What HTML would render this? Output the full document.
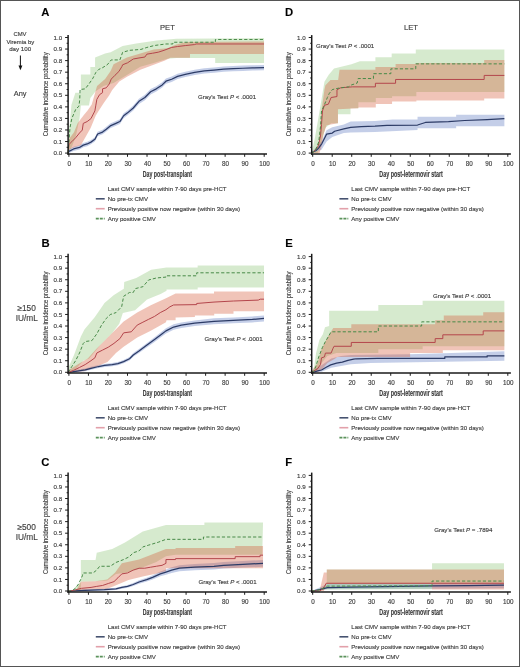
<!DOCTYPE html>
<html><head><meta charset="utf-8"><style>
html,body{margin:0;padding:0;background:#fff;width:520px;height:667px;overflow:hidden}
svg{display:block;will-change:transform}
text{font-family:"Liberation Sans", sans-serif;stroke:currentColor;stroke-width:0.14px;color:#3c3c3c}
</style></head><body>
<svg width="520" height="667" viewBox="0 0 520 667">
<rect x="0" y="0" width="520" height="667" fill="#fff"/>
<polygon points="68.10,151.02 68.89,149.27 73.61,146.82 79.52,145.30 83.26,142.96 87.20,141.80 90.94,139.93 94.88,137.13 97.63,131.75 102.56,129.77 106.30,126.85 110.24,123.58 115.95,121.01 119.88,119.14 123.63,113.31 127.56,110.39 133.27,105.48 138.98,98.71 144.89,94.86 150.60,89.06 156.31,86.17 162.22,82.24 165.96,78.54 171.67,76.57 177.58,73.68 185.26,71.72 194.71,69.75 204.35,68.25 214.00,67.44 223.65,66.52 233.30,65.94 242.95,65.59 252.40,65.24 264.02,65.01 264.02,70.33 252.40,70.56 242.95,70.91 233.30,71.26 223.65,71.83 214.00,72.76 204.35,73.57 194.71,75.07 185.26,77.04 177.58,79.00 171.67,81.89 165.96,83.86 162.22,87.55 156.31,91.49 150.60,94.38 144.89,100.13 138.98,103.91 133.27,110.55 127.56,115.35 123.63,118.22 119.88,123.94 115.95,125.77 110.24,128.29 106.30,131.49 102.56,134.35 97.63,136.30 94.88,141.56 90.94,144.31 87.20,146.14 83.26,147.28 79.52,149.57 73.61,151.06 68.89,153.10 68.10,153.10" fill="rgb(58,92,178)" fill-opacity="0.3"/>
<polygon points="68.69,135.76 71.45,104.78 75.39,92.64 80.90,92.64 80.90,74.49 90.35,74.49 90.35,66.98 95.08,66.98 95.08,57.61 105.12,53.45 110.63,52.18 122.64,46.05 136.23,43.40 156.70,40.39 176.39,38.66 264.02,38.08 264.02,62.93 215.18,62.93 215.18,58.08 176.39,58.08 167.34,58.77 153.75,62.93 140.36,66.86 126.97,74.95 113.58,83.05 103.54,86.05 95.67,91.37 90.35,98.07 88.97,105.47 80.90,105.47 79.52,118.42 75.98,135.76 72.04,146.16 68.69,153.10" fill="rgb(118,185,92)" fill-opacity="0.3"/>
<polygon points="68.89,139.23 74.01,132.29 77.75,123.04 83.85,114.95 87.79,110.33 91.73,104.55 97.04,85.94 105.12,79.12 110.63,71.02 113.58,64.20 126.97,57.50 140.36,53.45 153.75,49.41 167.34,48.14 176.39,44.44 186.24,42.12 264.02,41.43 264.02,54.03 189.98,54.03 189.98,57.73 170.49,57.73 164.97,60.62 152.37,65.24 140.36,69.87 126.97,76.80 119.29,81.54 112.21,89.98 109.25,95.30 103.74,103.05 99.21,109.98 95.67,115.76 90.74,127.67 85.82,136.45 80.90,145.35 74.01,147.32 68.89,149.63" fill="rgb(212,86,52)" fill-opacity="0.35"/>
<polyline points="68.10,153.10 68.89,151.37 73.61,148.94 79.52,147.44 83.26,145.12 87.20,143.97 90.94,142.12 94.88,139.34 97.63,134.03 102.56,132.06 106.30,129.17 110.24,125.93 115.95,123.39 119.88,121.54 123.63,115.76 127.56,112.87 133.27,108.02 138.98,101.31 144.89,97.50 150.60,91.72 156.31,88.83 162.22,84.90 165.96,81.20 171.67,79.23 177.58,76.34 185.26,74.38 194.71,72.41 204.35,70.91 214.00,70.10 223.65,69.17 233.30,68.60 242.95,68.25 252.40,67.90 264.02,67.67" fill="none" stroke="#2c3b66" stroke-width="1.25" stroke-linejoin="round"/>
<polyline points="68.10,153.10 68.89,144.55 71.84,141.66 75.58,137.84 79.52,132.99 82.28,130.10 83.26,123.39 87.20,121.54 90.94,118.65 94.88,110.91 95.86,105.13 96.85,99.35 99.60,94.61 102.56,92.64 102.56,88.83 106.30,87.79 109.25,83.97 111.22,79.12 114.96,75.30 118.90,71.49 121.85,66.63 122.64,64.78 127.56,62.82 133.27,59.00 138.98,57.96 144.89,57.04 146.86,54.15 152.57,53.22 158.28,52.18 163.99,50.33 171.67,47.44 177.58,46.52 185.26,45.59 194.71,44.55 196.08,43.97 264.02,43.97" fill="none" stroke="#b4464c" stroke-width="1.0" stroke-linejoin="round"/>
<polyline points="68.10,153.10 68.69,145.01 69.99,127.67 71.84,118.42 73.81,113.80 75.98,108.83 78.93,106.28 79.72,99.92 80.11,89.52 85.23,88.83 88.97,83.97 92.91,78.19 95.86,72.41 98.62,69.52 102.56,67.67 107.28,64.78 111.22,59.93 119.88,59.93 122.64,52.30 129.53,50.33 140.95,49.41 146.86,47.44 154.54,45.48 165.96,43.97 172.85,43.97 172.85,42.24 215.38,42.24 215.38,39.47 264.02,39.47" fill="none" stroke="#488a48" stroke-width="1.0" stroke-linejoin="round" stroke-dasharray="3.2 2"/>
<line x1="68.10" y1="35.10" x2="68.10" y2="154.80" stroke="#1a1a1a" stroke-width="1.5"/>
<line x1="67.35" y1="154.00" x2="267.00" y2="154.00" stroke="#1a1a1a" stroke-width="1.5"/>
<line x1="65.10" y1="153.10" x2="68.10" y2="153.10" stroke="#1a1a1a" stroke-width="1"/>
<text x="62.10" y="155.20" font-size="6.2" text-anchor="end" fill="#3c3c3c">0.0</text>
<line x1="66.60" y1="147.32" x2="68.10" y2="147.32" stroke="#1a1a1a" stroke-width="1"/>
<line x1="65.10" y1="141.54" x2="68.10" y2="141.54" stroke="#1a1a1a" stroke-width="1"/>
<text x="62.10" y="143.64" font-size="6.2" text-anchor="end" fill="#3c3c3c">0.1</text>
<line x1="66.60" y1="135.76" x2="68.10" y2="135.76" stroke="#1a1a1a" stroke-width="1"/>
<line x1="65.10" y1="129.98" x2="68.10" y2="129.98" stroke="#1a1a1a" stroke-width="1"/>
<text x="62.10" y="132.08" font-size="6.2" text-anchor="end" fill="#3c3c3c">0.2</text>
<line x1="66.60" y1="124.20" x2="68.10" y2="124.20" stroke="#1a1a1a" stroke-width="1"/>
<line x1="65.10" y1="118.42" x2="68.10" y2="118.42" stroke="#1a1a1a" stroke-width="1"/>
<text x="62.10" y="120.52" font-size="6.2" text-anchor="end" fill="#3c3c3c">0.3</text>
<line x1="66.60" y1="112.64" x2="68.10" y2="112.64" stroke="#1a1a1a" stroke-width="1"/>
<line x1="65.10" y1="106.86" x2="68.10" y2="106.86" stroke="#1a1a1a" stroke-width="1"/>
<text x="62.10" y="108.96" font-size="6.2" text-anchor="end" fill="#3c3c3c">0.4</text>
<line x1="66.60" y1="101.08" x2="68.10" y2="101.08" stroke="#1a1a1a" stroke-width="1"/>
<line x1="65.10" y1="95.30" x2="68.10" y2="95.30" stroke="#1a1a1a" stroke-width="1"/>
<text x="62.10" y="97.40" font-size="6.2" text-anchor="end" fill="#3c3c3c">0.5</text>
<line x1="66.60" y1="89.52" x2="68.10" y2="89.52" stroke="#1a1a1a" stroke-width="1"/>
<line x1="65.10" y1="83.74" x2="68.10" y2="83.74" stroke="#1a1a1a" stroke-width="1"/>
<text x="62.10" y="85.84" font-size="6.2" text-anchor="end" fill="#3c3c3c">0.6</text>
<line x1="66.60" y1="77.96" x2="68.10" y2="77.96" stroke="#1a1a1a" stroke-width="1"/>
<line x1="65.10" y1="72.18" x2="68.10" y2="72.18" stroke="#1a1a1a" stroke-width="1"/>
<text x="62.10" y="74.28" font-size="6.2" text-anchor="end" fill="#3c3c3c">0.7</text>
<line x1="66.60" y1="66.40" x2="68.10" y2="66.40" stroke="#1a1a1a" stroke-width="1"/>
<line x1="65.10" y1="60.62" x2="68.10" y2="60.62" stroke="#1a1a1a" stroke-width="1"/>
<text x="62.10" y="62.72" font-size="6.2" text-anchor="end" fill="#3c3c3c">0.8</text>
<line x1="66.60" y1="54.84" x2="68.10" y2="54.84" stroke="#1a1a1a" stroke-width="1"/>
<line x1="65.10" y1="49.06" x2="68.10" y2="49.06" stroke="#1a1a1a" stroke-width="1"/>
<text x="62.10" y="51.16" font-size="6.2" text-anchor="end" fill="#3c3c3c">0.9</text>
<line x1="66.60" y1="43.28" x2="68.10" y2="43.28" stroke="#1a1a1a" stroke-width="1"/>
<line x1="65.10" y1="37.50" x2="68.10" y2="37.50" stroke="#1a1a1a" stroke-width="1"/>
<text x="62.10" y="39.60" font-size="6.2" text-anchor="end" fill="#3c3c3c">1.0</text>
<line x1="68.90" y1="154.00" x2="68.90" y2="156.80" stroke="#1a1a1a" stroke-width="1"/>
<text x="69.30" y="165.60" font-size="6.3" text-anchor="middle" fill="#3c3c3c">0</text>
<line x1="88.43" y1="154.00" x2="88.43" y2="156.80" stroke="#1a1a1a" stroke-width="1"/>
<text x="88.83" y="165.60" font-size="6.3" text-anchor="middle" fill="#3c3c3c">10</text>
<line x1="107.96" y1="154.00" x2="107.96" y2="156.80" stroke="#1a1a1a" stroke-width="1"/>
<text x="108.36" y="165.60" font-size="6.3" text-anchor="middle" fill="#3c3c3c">20</text>
<line x1="127.49" y1="154.00" x2="127.49" y2="156.80" stroke="#1a1a1a" stroke-width="1"/>
<text x="127.89" y="165.60" font-size="6.3" text-anchor="middle" fill="#3c3c3c">30</text>
<line x1="147.02" y1="154.00" x2="147.02" y2="156.80" stroke="#1a1a1a" stroke-width="1"/>
<text x="147.42" y="165.60" font-size="6.3" text-anchor="middle" fill="#3c3c3c">40</text>
<line x1="166.55" y1="154.00" x2="166.55" y2="156.80" stroke="#1a1a1a" stroke-width="1"/>
<text x="166.95" y="165.60" font-size="6.3" text-anchor="middle" fill="#3c3c3c">50</text>
<line x1="186.08" y1="154.00" x2="186.08" y2="156.80" stroke="#1a1a1a" stroke-width="1"/>
<text x="186.48" y="165.60" font-size="6.3" text-anchor="middle" fill="#3c3c3c">60</text>
<line x1="205.61" y1="154.00" x2="205.61" y2="156.80" stroke="#1a1a1a" stroke-width="1"/>
<text x="206.01" y="165.60" font-size="6.3" text-anchor="middle" fill="#3c3c3c">70</text>
<line x1="225.14" y1="154.00" x2="225.14" y2="156.80" stroke="#1a1a1a" stroke-width="1"/>
<text x="225.54" y="165.60" font-size="6.3" text-anchor="middle" fill="#3c3c3c">80</text>
<line x1="244.67" y1="154.00" x2="244.67" y2="156.80" stroke="#1a1a1a" stroke-width="1"/>
<text x="245.07" y="165.60" font-size="6.3" text-anchor="middle" fill="#3c3c3c">90</text>
<line x1="264.20" y1="154.00" x2="264.20" y2="156.80" stroke="#1a1a1a" stroke-width="1"/>
<text x="264.60" y="165.60" font-size="6.3" text-anchor="middle" fill="#3c3c3c">100</text>
<text transform="translate(47.70,94.30) rotate(-90) scale(0.76,1)" font-size="7.7" text-anchor="middle" fill="#3c3c3c">Cumulative incidence probability</text>
<text transform="translate(167.40,176.90) scale(0.64,1)" font-size="8.2" font-weight="bold" text-anchor="middle" fill="#3c3c3c">Day post-transplant</text>
<text x="107.70" y="190.90" font-size="6.1" fill="#3c3c3c">Last CMV sample within 7-90 days pre-HCT</text>
<line x1="95.80" y1="198.80" x2="104.70" y2="198.80" stroke="#465270" stroke-width="1.6"/>
<text x="107.70" y="200.80" font-size="6.1" fill="#3c3c3c">No pre-tx CMV</text>
<line x1="95.80" y1="208.70" x2="104.70" y2="208.70" stroke="#e2a0aa" stroke-width="1.6"/>
<text x="107.70" y="210.70" font-size="6.1" fill="#3c3c3c">Previously positive now negative (within 30 days)</text>
<line x1="95.80" y1="218.60" x2="104.70" y2="218.60" stroke="#5a925a" stroke-width="1.6" stroke-dasharray="3 1"/>
<text x="107.70" y="220.60" font-size="6.1" fill="#3c3c3c">Any positive CMV</text>
<text x="41.20" y="16.30" font-size="11.3" font-weight="bold" fill="#000">A</text>
<text x="198.00" y="99.10" font-size="6.1" fill="#3c3c3c">Gray's Test <tspan font-style="italic">P</tspan> &lt; .0001</text>
<polygon points="311.70,151.94 321.50,141.54 326.60,130.21 332.28,127.32 343.84,124.43 350.70,121.54 375.01,120.96 392.65,119.58 417.54,119.58 417.54,116.69 456.15,116.69 456.15,114.84 504.37,114.84 504.37,126.28 456.15,126.28 456.15,128.25 417.54,128.25 417.54,130.10 375.01,131.95 350.70,132.52 343.84,133.10 332.28,136.92 326.60,141.54 321.50,149.63 311.70,153.10" fill="rgb(58,92,178)" fill-opacity="0.3"/>
<polygon points="311.70,153.10 315.03,137.15 318.36,118.07 321.89,97.27 324.44,81.66 328.75,74.72 334.04,68.60 351.49,64.32 359.92,61.20 375.40,61.20 375.40,57.27 391.67,57.27 391.67,53.45 415.78,53.45 415.78,49.41 504.37,49.41 504.37,91.95 416.36,91.95 416.36,96.22 392.06,96.22 392.06,97.96 375.79,97.96 375.79,102.24 358.35,102.24 358.35,108.36 350.51,108.36 350.51,114.37 337.96,114.37 337.96,123.28 331.30,123.28 325.42,127.67 321.50,141.54 317.58,153.10 311.70,153.10" fill="rgb(118,185,92)" fill-opacity="0.3"/>
<polygon points="311.70,153.10 318.36,150.79 320.13,126.74 321.89,108.02 324.44,89.52 325.42,85.13 330.52,80.04 338.16,80.04 339.53,69.75 375.40,69.75 375.40,66.98 395.59,66.98 395.59,64.09 415.78,64.09 415.78,62.93 484.18,62.93 484.18,59.93 504.37,59.93 504.37,98.42 484.18,98.42 484.18,100.50 416.36,100.50 416.36,101.43 392.06,101.43 392.06,103.97 375.79,103.97 375.79,107.55 358.35,107.55 358.35,108.36 337.96,109.17 337.96,123.28 326.60,125.36 323.46,134.60 321.50,146.16 319.54,153.10 311.70,153.10" fill="rgb(212,86,52)" fill-opacity="0.35"/>
<polyline points="311.70,153.10 311.90,152.52 315.82,150.79 318.56,148.13 321.89,143.51 325.42,136.45 326.60,134.14 332.28,133.10 334.63,131.25 343.84,128.94 350.70,127.32 361.29,126.74 375.01,126.17 386.96,125.36 417.54,125.01 425.38,122.47 448.51,121.54 464.58,120.50 487.12,119.58 504.37,118.65" fill="none" stroke="#2c3b66" stroke-width="1.25" stroke-linejoin="round"/>
<polyline points="311.70,153.10 312.88,152.29 317.78,147.44 320.52,135.99 321.50,124.43 322.48,110.91 324.44,105.24 328.36,104.20 331.10,97.50 336.98,96.57 336.98,89.75 340.71,87.79 352.27,86.86 375.40,86.86 375.40,83.28 395.59,83.28 395.59,79.46 484.18,79.46 484.18,75.42 504.37,75.42" fill="none" stroke="#b4464c" stroke-width="1.0" stroke-linejoin="round"/>
<polyline points="311.70,153.10 313.66,151.94 315.82,149.40 318.76,141.77 320.52,126.40 321.50,110.91 323.46,107.09 327.38,97.50 329.14,93.68 332.08,89.75 335.02,88.83 340.71,87.79 348.55,86.86 351.29,85.01 357.17,83.05 358.15,78.54 373.44,78.54 373.44,73.68 390.88,73.68 390.88,68.83 415.78,68.83 415.78,63.86 504.37,63.86" fill="none" stroke="#488a48" stroke-width="1.0" stroke-linejoin="round" stroke-dasharray="3.2 2"/>
<line x1="311.70" y1="35.10" x2="311.70" y2="154.80" stroke="#1a1a1a" stroke-width="1.5"/>
<line x1="310.95" y1="154.00" x2="510.90" y2="154.00" stroke="#1a1a1a" stroke-width="1.5"/>
<line x1="308.70" y1="153.10" x2="311.70" y2="153.10" stroke="#1a1a1a" stroke-width="1"/>
<text x="305.70" y="155.20" font-size="6.2" text-anchor="end" fill="#3c3c3c">0.0</text>
<line x1="310.20" y1="147.32" x2="311.70" y2="147.32" stroke="#1a1a1a" stroke-width="1"/>
<line x1="308.70" y1="141.54" x2="311.70" y2="141.54" stroke="#1a1a1a" stroke-width="1"/>
<text x="305.70" y="143.64" font-size="6.2" text-anchor="end" fill="#3c3c3c">0.1</text>
<line x1="310.20" y1="135.76" x2="311.70" y2="135.76" stroke="#1a1a1a" stroke-width="1"/>
<line x1="308.70" y1="129.98" x2="311.70" y2="129.98" stroke="#1a1a1a" stroke-width="1"/>
<text x="305.70" y="132.08" font-size="6.2" text-anchor="end" fill="#3c3c3c">0.2</text>
<line x1="310.20" y1="124.20" x2="311.70" y2="124.20" stroke="#1a1a1a" stroke-width="1"/>
<line x1="308.70" y1="118.42" x2="311.70" y2="118.42" stroke="#1a1a1a" stroke-width="1"/>
<text x="305.70" y="120.52" font-size="6.2" text-anchor="end" fill="#3c3c3c">0.3</text>
<line x1="310.20" y1="112.64" x2="311.70" y2="112.64" stroke="#1a1a1a" stroke-width="1"/>
<line x1="308.70" y1="106.86" x2="311.70" y2="106.86" stroke="#1a1a1a" stroke-width="1"/>
<text x="305.70" y="108.96" font-size="6.2" text-anchor="end" fill="#3c3c3c">0.4</text>
<line x1="310.20" y1="101.08" x2="311.70" y2="101.08" stroke="#1a1a1a" stroke-width="1"/>
<line x1="308.70" y1="95.30" x2="311.70" y2="95.30" stroke="#1a1a1a" stroke-width="1"/>
<text x="305.70" y="97.40" font-size="6.2" text-anchor="end" fill="#3c3c3c">0.5</text>
<line x1="310.20" y1="89.52" x2="311.70" y2="89.52" stroke="#1a1a1a" stroke-width="1"/>
<line x1="308.70" y1="83.74" x2="311.70" y2="83.74" stroke="#1a1a1a" stroke-width="1"/>
<text x="305.70" y="85.84" font-size="6.2" text-anchor="end" fill="#3c3c3c">0.6</text>
<line x1="310.20" y1="77.96" x2="311.70" y2="77.96" stroke="#1a1a1a" stroke-width="1"/>
<line x1="308.70" y1="72.18" x2="311.70" y2="72.18" stroke="#1a1a1a" stroke-width="1"/>
<text x="305.70" y="74.28" font-size="6.2" text-anchor="end" fill="#3c3c3c">0.7</text>
<line x1="310.20" y1="66.40" x2="311.70" y2="66.40" stroke="#1a1a1a" stroke-width="1"/>
<line x1="308.70" y1="60.62" x2="311.70" y2="60.62" stroke="#1a1a1a" stroke-width="1"/>
<text x="305.70" y="62.72" font-size="6.2" text-anchor="end" fill="#3c3c3c">0.8</text>
<line x1="310.20" y1="54.84" x2="311.70" y2="54.84" stroke="#1a1a1a" stroke-width="1"/>
<line x1="308.70" y1="49.06" x2="311.70" y2="49.06" stroke="#1a1a1a" stroke-width="1"/>
<text x="305.70" y="51.16" font-size="6.2" text-anchor="end" fill="#3c3c3c">0.9</text>
<line x1="310.20" y1="43.28" x2="311.70" y2="43.28" stroke="#1a1a1a" stroke-width="1"/>
<line x1="308.70" y1="37.50" x2="311.70" y2="37.50" stroke="#1a1a1a" stroke-width="1"/>
<text x="305.70" y="39.60" font-size="6.2" text-anchor="end" fill="#3c3c3c">1.0</text>
<line x1="312.70" y1="154.00" x2="312.70" y2="156.80" stroke="#1a1a1a" stroke-width="1"/>
<text x="313.10" y="165.60" font-size="6.3" text-anchor="middle" fill="#3c3c3c">0</text>
<line x1="332.21" y1="154.00" x2="332.21" y2="156.80" stroke="#1a1a1a" stroke-width="1"/>
<text x="332.61" y="165.60" font-size="6.3" text-anchor="middle" fill="#3c3c3c">10</text>
<line x1="351.72" y1="154.00" x2="351.72" y2="156.80" stroke="#1a1a1a" stroke-width="1"/>
<text x="352.12" y="165.60" font-size="6.3" text-anchor="middle" fill="#3c3c3c">20</text>
<line x1="371.23" y1="154.00" x2="371.23" y2="156.80" stroke="#1a1a1a" stroke-width="1"/>
<text x="371.63" y="165.60" font-size="6.3" text-anchor="middle" fill="#3c3c3c">30</text>
<line x1="390.74" y1="154.00" x2="390.74" y2="156.80" stroke="#1a1a1a" stroke-width="1"/>
<text x="391.14" y="165.60" font-size="6.3" text-anchor="middle" fill="#3c3c3c">40</text>
<line x1="410.25" y1="154.00" x2="410.25" y2="156.80" stroke="#1a1a1a" stroke-width="1"/>
<text x="410.65" y="165.60" font-size="6.3" text-anchor="middle" fill="#3c3c3c">50</text>
<line x1="429.76" y1="154.00" x2="429.76" y2="156.80" stroke="#1a1a1a" stroke-width="1"/>
<text x="430.16" y="165.60" font-size="6.3" text-anchor="middle" fill="#3c3c3c">60</text>
<line x1="449.27" y1="154.00" x2="449.27" y2="156.80" stroke="#1a1a1a" stroke-width="1"/>
<text x="449.67" y="165.60" font-size="6.3" text-anchor="middle" fill="#3c3c3c">70</text>
<line x1="468.78" y1="154.00" x2="468.78" y2="156.80" stroke="#1a1a1a" stroke-width="1"/>
<text x="469.18" y="165.60" font-size="6.3" text-anchor="middle" fill="#3c3c3c">80</text>
<line x1="488.29" y1="154.00" x2="488.29" y2="156.80" stroke="#1a1a1a" stroke-width="1"/>
<text x="488.69" y="165.60" font-size="6.3" text-anchor="middle" fill="#3c3c3c">90</text>
<line x1="507.80" y1="154.00" x2="507.80" y2="156.80" stroke="#1a1a1a" stroke-width="1"/>
<text x="508.20" y="165.60" font-size="6.3" text-anchor="middle" fill="#3c3c3c">100</text>
<text transform="translate(291.30,94.30) rotate(-90) scale(0.76,1)" font-size="7.7" text-anchor="middle" fill="#3c3c3c">Cumulative incidence probability</text>
<text transform="translate(411.10,176.90) scale(0.656,1)" font-size="8.2" font-weight="bold" text-anchor="middle" fill="#3c3c3c">Day post-letermovir start</text>
<text x="351.30" y="190.90" font-size="6.1" fill="#3c3c3c">Last CMV sample within 7-90 days pre-HCT</text>
<line x1="339.40" y1="198.80" x2="348.30" y2="198.80" stroke="#465270" stroke-width="1.6"/>
<text x="351.30" y="200.80" font-size="6.1" fill="#3c3c3c">No pre-tx CMV</text>
<line x1="339.40" y1="208.70" x2="348.30" y2="208.70" stroke="#e2a0aa" stroke-width="1.6"/>
<text x="351.30" y="210.70" font-size="6.1" fill="#3c3c3c">Previously positive now negative (within 30 days)</text>
<line x1="339.40" y1="218.60" x2="348.30" y2="218.60" stroke="#5a925a" stroke-width="1.6" stroke-dasharray="3 1"/>
<text x="351.30" y="220.60" font-size="6.1" fill="#3c3c3c">Any positive CMV</text>
<text x="285.10" y="16.20" font-size="11.3" font-weight="bold" fill="#000">D</text>
<text x="316.10" y="47.80" font-size="6.1" fill="#3c3c3c">Gray's Test <tspan font-style="italic">P</tspan> &lt; .0001</text>
<polygon points="68.10,370.91 68.89,370.91 75.58,369.84 85.23,368.41 90.94,366.86 98.62,364.95 104.53,363.88 112.21,362.93 117.92,361.97 123.63,359.95 129.53,356.97 133.27,353.04 138.98,348.98 146.66,343.14 154.54,337.19 162.22,331.23 165.96,328.25 173.64,324.32 181.32,322.41 194.71,320.38 214.00,318.36 233.30,317.40 252.40,316.45 264.02,315.38 264.02,321.39 252.40,322.40 233.30,323.30 214.00,324.20 194.71,326.10 181.32,328.01 173.64,329.81 165.96,333.51 162.22,336.32 154.54,341.93 146.66,347.54 138.98,353.04 133.27,356.85 129.53,360.56 123.63,363.36 117.92,365.27 112.21,366.17 104.53,367.07 98.62,368.08 90.94,369.87 85.23,371.33 75.58,372.30 68.89,372.30 68.10,372.30" fill="rgb(58,92,178)" fill-opacity="0.3"/>
<polygon points="68.89,366.51 74.01,354.94 80.90,336.43 84.44,329.61 94.88,316.88 104.53,302.88 113.58,295.36 123.82,288.65 124.22,281.94 136.23,277.89 151.19,269.79 166.55,267.48 197.66,267.48 197.66,265.51 264.02,265.51 264.02,287.61 197.66,287.61 197.66,289.57 166.55,289.57 166.55,290.73 160.64,293.97 147.06,299.41 135.05,310.17 122.84,312.95 119.29,323.71 112.21,333.08 100.59,344.65 89.17,358.53 83.26,360.73 75.98,368.83 68.89,372.30" fill="rgb(118,185,92)" fill-opacity="0.3"/>
<polygon points="68.89,369.99 77.94,364.20 87.79,358.42 96.06,349.16 106.50,338.75 117.92,327.29 123.63,321.39 137.21,312.60 150.80,305.19 165.96,298.25 175.61,293.39 214.00,293.39 214.00,291.43 264.02,291.43 264.02,311.33 233.50,311.33 233.50,313.87 214.20,313.87 214.20,315.61 194.90,315.61 194.90,317.11 175.61,317.46 175.61,320.35 166.55,320.35 165.96,322.20 150.80,330.65 137.21,337.59 123.63,346.85 115.95,353.09 107.48,361.89 96.85,366.51 83.85,371.14 68.89,372.30" fill="rgb(212,86,52)" fill-opacity="0.35"/>
<polyline points="68.10,372.30 68.89,372.30 75.58,371.26 85.23,369.87 90.94,368.37 98.62,366.51 104.53,365.47 112.21,364.55 117.92,363.62 123.63,361.66 129.53,358.76 133.27,354.94 138.98,351.01 146.66,345.34 154.54,339.56 162.22,333.77 165.96,330.88 173.64,327.06 181.32,325.21 194.71,323.24 214.00,321.28 233.30,320.35 252.40,319.43 264.02,318.38" fill="none" stroke="#2c3b66" stroke-width="1.25" stroke-linejoin="round"/>
<polyline points="68.10,372.30 68.89,372.30 73.61,370.33 79.52,367.44 85.23,364.55 90.94,360.73 94.88,357.84 96.85,352.98 102.56,350.09 108.27,347.19 113.98,343.38 119.88,338.63 123.63,332.85 131.30,331.81 137.21,325.09 142.92,322.20 148.63,319.31 154.54,316.42 160.25,312.60 165.96,309.71 169.90,306.81 173.64,304.96 196.68,304.62 196.68,303.46 214.00,302.07 233.30,301.03 258.31,300.10 260.27,299.18 264.02,299.18" fill="none" stroke="#b4464c" stroke-width="1.0" stroke-linejoin="round"/>
<polyline points="68.10,372.30 68.89,371.26 71.84,366.51 75.58,360.73 79.52,352.98 83.26,343.49 85.23,341.52 91.92,340.60 96.85,333.77 101.57,325.09 106.30,318.38 110.24,314.57 115.95,312.60 121.66,306.81 123.63,296.29 129.53,292.47 133.27,292.47 135.24,288.65 142.92,286.68 148.63,279.97 156.31,278.00 165.96,277.08 165.96,275.81 196.68,275.81 196.68,272.80 264.02,272.80" fill="none" stroke="#488a48" stroke-width="1.0" stroke-linejoin="round" stroke-dasharray="3.2 2"/>
<line x1="68.10" y1="253.80" x2="68.10" y2="373.80" stroke="#1a1a1a" stroke-width="1.5"/>
<line x1="67.35" y1="373.00" x2="267.00" y2="373.00" stroke="#1a1a1a" stroke-width="1.5"/>
<line x1="65.10" y1="372.30" x2="68.10" y2="372.30" stroke="#1a1a1a" stroke-width="1"/>
<text x="62.10" y="374.40" font-size="6.2" text-anchor="end" fill="#3c3c3c">0.0</text>
<line x1="66.60" y1="366.51" x2="68.10" y2="366.51" stroke="#1a1a1a" stroke-width="1"/>
<line x1="65.10" y1="360.73" x2="68.10" y2="360.73" stroke="#1a1a1a" stroke-width="1"/>
<text x="62.10" y="362.83" font-size="6.2" text-anchor="end" fill="#3c3c3c">0.1</text>
<line x1="66.60" y1="354.94" x2="68.10" y2="354.94" stroke="#1a1a1a" stroke-width="1"/>
<line x1="65.10" y1="349.16" x2="68.10" y2="349.16" stroke="#1a1a1a" stroke-width="1"/>
<text x="62.10" y="351.26" font-size="6.2" text-anchor="end" fill="#3c3c3c">0.2</text>
<line x1="66.60" y1="343.38" x2="68.10" y2="343.38" stroke="#1a1a1a" stroke-width="1"/>
<line x1="65.10" y1="337.59" x2="68.10" y2="337.59" stroke="#1a1a1a" stroke-width="1"/>
<text x="62.10" y="339.69" font-size="6.2" text-anchor="end" fill="#3c3c3c">0.3</text>
<line x1="66.60" y1="331.81" x2="68.10" y2="331.81" stroke="#1a1a1a" stroke-width="1"/>
<line x1="65.10" y1="326.02" x2="68.10" y2="326.02" stroke="#1a1a1a" stroke-width="1"/>
<text x="62.10" y="328.12" font-size="6.2" text-anchor="end" fill="#3c3c3c">0.4</text>
<line x1="66.60" y1="320.24" x2="68.10" y2="320.24" stroke="#1a1a1a" stroke-width="1"/>
<line x1="65.10" y1="314.45" x2="68.10" y2="314.45" stroke="#1a1a1a" stroke-width="1"/>
<text x="62.10" y="316.55" font-size="6.2" text-anchor="end" fill="#3c3c3c">0.5</text>
<line x1="66.60" y1="308.67" x2="68.10" y2="308.67" stroke="#1a1a1a" stroke-width="1"/>
<line x1="65.10" y1="302.88" x2="68.10" y2="302.88" stroke="#1a1a1a" stroke-width="1"/>
<text x="62.10" y="304.98" font-size="6.2" text-anchor="end" fill="#3c3c3c">0.6</text>
<line x1="66.60" y1="297.10" x2="68.10" y2="297.10" stroke="#1a1a1a" stroke-width="1"/>
<line x1="65.10" y1="291.31" x2="68.10" y2="291.31" stroke="#1a1a1a" stroke-width="1"/>
<text x="62.10" y="293.41" font-size="6.2" text-anchor="end" fill="#3c3c3c">0.7</text>
<line x1="66.60" y1="285.53" x2="68.10" y2="285.53" stroke="#1a1a1a" stroke-width="1"/>
<line x1="65.10" y1="279.74" x2="68.10" y2="279.74" stroke="#1a1a1a" stroke-width="1"/>
<text x="62.10" y="281.84" font-size="6.2" text-anchor="end" fill="#3c3c3c">0.8</text>
<line x1="66.60" y1="273.96" x2="68.10" y2="273.96" stroke="#1a1a1a" stroke-width="1"/>
<line x1="65.10" y1="268.17" x2="68.10" y2="268.17" stroke="#1a1a1a" stroke-width="1"/>
<text x="62.10" y="270.27" font-size="6.2" text-anchor="end" fill="#3c3c3c">0.9</text>
<line x1="66.60" y1="262.39" x2="68.10" y2="262.39" stroke="#1a1a1a" stroke-width="1"/>
<line x1="65.10" y1="256.60" x2="68.10" y2="256.60" stroke="#1a1a1a" stroke-width="1"/>
<text x="62.10" y="258.70" font-size="6.2" text-anchor="end" fill="#3c3c3c">1.0</text>
<line x1="68.90" y1="373.00" x2="68.90" y2="375.80" stroke="#1a1a1a" stroke-width="1"/>
<text x="69.30" y="384.60" font-size="6.3" text-anchor="middle" fill="#3c3c3c">0</text>
<line x1="88.43" y1="373.00" x2="88.43" y2="375.80" stroke="#1a1a1a" stroke-width="1"/>
<text x="88.83" y="384.60" font-size="6.3" text-anchor="middle" fill="#3c3c3c">10</text>
<line x1="107.96" y1="373.00" x2="107.96" y2="375.80" stroke="#1a1a1a" stroke-width="1"/>
<text x="108.36" y="384.60" font-size="6.3" text-anchor="middle" fill="#3c3c3c">20</text>
<line x1="127.49" y1="373.00" x2="127.49" y2="375.80" stroke="#1a1a1a" stroke-width="1"/>
<text x="127.89" y="384.60" font-size="6.3" text-anchor="middle" fill="#3c3c3c">30</text>
<line x1="147.02" y1="373.00" x2="147.02" y2="375.80" stroke="#1a1a1a" stroke-width="1"/>
<text x="147.42" y="384.60" font-size="6.3" text-anchor="middle" fill="#3c3c3c">40</text>
<line x1="166.55" y1="373.00" x2="166.55" y2="375.80" stroke="#1a1a1a" stroke-width="1"/>
<text x="166.95" y="384.60" font-size="6.3" text-anchor="middle" fill="#3c3c3c">50</text>
<line x1="186.08" y1="373.00" x2="186.08" y2="375.80" stroke="#1a1a1a" stroke-width="1"/>
<text x="186.48" y="384.60" font-size="6.3" text-anchor="middle" fill="#3c3c3c">60</text>
<line x1="205.61" y1="373.00" x2="205.61" y2="375.80" stroke="#1a1a1a" stroke-width="1"/>
<text x="206.01" y="384.60" font-size="6.3" text-anchor="middle" fill="#3c3c3c">70</text>
<line x1="225.14" y1="373.00" x2="225.14" y2="375.80" stroke="#1a1a1a" stroke-width="1"/>
<text x="225.54" y="384.60" font-size="6.3" text-anchor="middle" fill="#3c3c3c">80</text>
<line x1="244.67" y1="373.00" x2="244.67" y2="375.80" stroke="#1a1a1a" stroke-width="1"/>
<text x="245.07" y="384.60" font-size="6.3" text-anchor="middle" fill="#3c3c3c">90</text>
<line x1="264.20" y1="373.00" x2="264.20" y2="375.80" stroke="#1a1a1a" stroke-width="1"/>
<text x="264.60" y="384.60" font-size="6.3" text-anchor="middle" fill="#3c3c3c">100</text>
<text transform="translate(47.70,313.45) rotate(-90) scale(0.76,1)" font-size="7.7" text-anchor="middle" fill="#3c3c3c">Cumulative incidence probability</text>
<text transform="translate(167.40,395.90) scale(0.64,1)" font-size="8.2" font-weight="bold" text-anchor="middle" fill="#3c3c3c">Day post-transplant</text>
<text x="107.70" y="409.90" font-size="6.1" fill="#3c3c3c">Last CMV sample within 7-90 days pre-HCT</text>
<line x1="95.80" y1="417.80" x2="104.70" y2="417.80" stroke="#465270" stroke-width="1.6"/>
<text x="107.70" y="419.80" font-size="6.1" fill="#3c3c3c">No pre-tx CMV</text>
<line x1="95.80" y1="427.70" x2="104.70" y2="427.70" stroke="#e2a0aa" stroke-width="1.6"/>
<text x="107.70" y="429.70" font-size="6.1" fill="#3c3c3c">Previously positive now negative (within 30 days)</text>
<line x1="95.80" y1="437.60" x2="104.70" y2="437.60" stroke="#5a925a" stroke-width="1.6" stroke-dasharray="3 1"/>
<text x="107.70" y="439.60" font-size="6.1" fill="#3c3c3c">Any positive CMV</text>
<text x="41.60" y="247.00" font-size="11.3" font-weight="bold" fill="#000">B</text>
<text x="204.50" y="340.50" font-size="6.1" fill="#3c3c3c">Gray's Test <tspan font-style="italic">P</tspan> &lt; .0001</text>
<polygon points="311.70,371.14 321.50,365.36 331.30,358.42 341.10,356.10 350.90,354.94 409.70,354.37 443.80,353.21 483.20,352.05 504.37,351.13 504.37,360.73 370.50,363.04 350.90,364.20 331.30,367.67 321.50,371.72 311.70,372.30" fill="rgb(58,92,178)" fill-opacity="0.3"/>
<polygon points="311.70,372.30 314.25,366.51 316.01,353.56 319.34,339.90 322.87,334.23 325.03,327.29 329.14,326.02 329.14,310.75 378.34,310.75 378.34,304.96 422.64,304.96 422.64,300.68 504.37,300.68 504.37,346.27 422.64,346.27 422.64,349.16 378.34,349.16 378.34,353.09 336.40,353.09 327.38,356.10 321.50,363.04 317.58,369.99 311.70,372.30" fill="rgb(118,185,92)" fill-opacity="0.3"/>
<polygon points="311.70,371.14 317.58,363.04 321.50,349.16 327.38,337.59 333.26,327.99 351.29,327.99 351.29,324.17 435.18,324.17 435.18,320.35 443.80,320.35 443.80,315.61 483.20,315.61 483.20,312.25 504.37,312.25 504.37,350.20 442.82,350.20 442.82,353.09 410.09,353.09 410.09,356.91 337.18,356.91 335.22,358.42 327.38,363.04 323.46,367.67 319.54,371.14 311.70,372.30" fill="rgb(212,86,52)" fill-opacity="0.35"/>
<polyline points="311.70,372.30 312.88,372.30 317.78,370.91 321.50,369.99 326.20,367.21 330.71,364.90 336.59,363.16 342.28,362.12 347.96,360.38 353.64,359.23 356.19,358.76 377.36,358.42 410.09,358.42 444.78,358.42 444.78,356.91 487.12,356.91 487.12,355.87 504.37,355.87" fill="none" stroke="#2c3b66" stroke-width="1.25" stroke-linejoin="round"/>
<polyline points="311.70,372.30 313.66,371.26 317.78,368.48 320.52,364.55 321.50,357.84 324.44,356.91 325.42,353.09 331.10,353.09 333.06,348.23 334.04,346.27 351.29,346.27 351.29,342.45 435.18,342.45 435.18,338.63 442.82,338.63 442.82,334.81 483.20,334.81 483.20,330.88 504.37,330.88" fill="none" stroke="#b4464c" stroke-width="1.0" stroke-linejoin="round"/>
<polyline points="311.70,372.30 313.86,371.26 315.82,366.51 318.76,356.91 322.48,347.31 325.42,341.52 328.36,336.66 331.10,331.81 378.34,331.81 378.34,326.02 421.66,326.02 421.66,321.85 504.37,321.85" fill="none" stroke="#488a48" stroke-width="1.0" stroke-linejoin="round" stroke-dasharray="3.2 2"/>
<line x1="311.70" y1="253.80" x2="311.70" y2="373.80" stroke="#1a1a1a" stroke-width="1.5"/>
<line x1="310.95" y1="373.00" x2="510.90" y2="373.00" stroke="#1a1a1a" stroke-width="1.5"/>
<line x1="308.70" y1="372.30" x2="311.70" y2="372.30" stroke="#1a1a1a" stroke-width="1"/>
<text x="305.70" y="374.40" font-size="6.2" text-anchor="end" fill="#3c3c3c">0.0</text>
<line x1="310.20" y1="366.51" x2="311.70" y2="366.51" stroke="#1a1a1a" stroke-width="1"/>
<line x1="308.70" y1="360.73" x2="311.70" y2="360.73" stroke="#1a1a1a" stroke-width="1"/>
<text x="305.70" y="362.83" font-size="6.2" text-anchor="end" fill="#3c3c3c">0.1</text>
<line x1="310.20" y1="354.94" x2="311.70" y2="354.94" stroke="#1a1a1a" stroke-width="1"/>
<line x1="308.70" y1="349.16" x2="311.70" y2="349.16" stroke="#1a1a1a" stroke-width="1"/>
<text x="305.70" y="351.26" font-size="6.2" text-anchor="end" fill="#3c3c3c">0.2</text>
<line x1="310.20" y1="343.38" x2="311.70" y2="343.38" stroke="#1a1a1a" stroke-width="1"/>
<line x1="308.70" y1="337.59" x2="311.70" y2="337.59" stroke="#1a1a1a" stroke-width="1"/>
<text x="305.70" y="339.69" font-size="6.2" text-anchor="end" fill="#3c3c3c">0.3</text>
<line x1="310.20" y1="331.81" x2="311.70" y2="331.81" stroke="#1a1a1a" stroke-width="1"/>
<line x1="308.70" y1="326.02" x2="311.70" y2="326.02" stroke="#1a1a1a" stroke-width="1"/>
<text x="305.70" y="328.12" font-size="6.2" text-anchor="end" fill="#3c3c3c">0.4</text>
<line x1="310.20" y1="320.24" x2="311.70" y2="320.24" stroke="#1a1a1a" stroke-width="1"/>
<line x1="308.70" y1="314.45" x2="311.70" y2="314.45" stroke="#1a1a1a" stroke-width="1"/>
<text x="305.70" y="316.55" font-size="6.2" text-anchor="end" fill="#3c3c3c">0.5</text>
<line x1="310.20" y1="308.67" x2="311.70" y2="308.67" stroke="#1a1a1a" stroke-width="1"/>
<line x1="308.70" y1="302.88" x2="311.70" y2="302.88" stroke="#1a1a1a" stroke-width="1"/>
<text x="305.70" y="304.98" font-size="6.2" text-anchor="end" fill="#3c3c3c">0.6</text>
<line x1="310.20" y1="297.10" x2="311.70" y2="297.10" stroke="#1a1a1a" stroke-width="1"/>
<line x1="308.70" y1="291.31" x2="311.70" y2="291.31" stroke="#1a1a1a" stroke-width="1"/>
<text x="305.70" y="293.41" font-size="6.2" text-anchor="end" fill="#3c3c3c">0.7</text>
<line x1="310.20" y1="285.53" x2="311.70" y2="285.53" stroke="#1a1a1a" stroke-width="1"/>
<line x1="308.70" y1="279.74" x2="311.70" y2="279.74" stroke="#1a1a1a" stroke-width="1"/>
<text x="305.70" y="281.84" font-size="6.2" text-anchor="end" fill="#3c3c3c">0.8</text>
<line x1="310.20" y1="273.96" x2="311.70" y2="273.96" stroke="#1a1a1a" stroke-width="1"/>
<line x1="308.70" y1="268.17" x2="311.70" y2="268.17" stroke="#1a1a1a" stroke-width="1"/>
<text x="305.70" y="270.27" font-size="6.2" text-anchor="end" fill="#3c3c3c">0.9</text>
<line x1="310.20" y1="262.39" x2="311.70" y2="262.39" stroke="#1a1a1a" stroke-width="1"/>
<line x1="308.70" y1="256.60" x2="311.70" y2="256.60" stroke="#1a1a1a" stroke-width="1"/>
<text x="305.70" y="258.70" font-size="6.2" text-anchor="end" fill="#3c3c3c">1.0</text>
<line x1="312.70" y1="373.00" x2="312.70" y2="375.80" stroke="#1a1a1a" stroke-width="1"/>
<text x="313.10" y="384.60" font-size="6.3" text-anchor="middle" fill="#3c3c3c">0</text>
<line x1="332.21" y1="373.00" x2="332.21" y2="375.80" stroke="#1a1a1a" stroke-width="1"/>
<text x="332.61" y="384.60" font-size="6.3" text-anchor="middle" fill="#3c3c3c">10</text>
<line x1="351.72" y1="373.00" x2="351.72" y2="375.80" stroke="#1a1a1a" stroke-width="1"/>
<text x="352.12" y="384.60" font-size="6.3" text-anchor="middle" fill="#3c3c3c">20</text>
<line x1="371.23" y1="373.00" x2="371.23" y2="375.80" stroke="#1a1a1a" stroke-width="1"/>
<text x="371.63" y="384.60" font-size="6.3" text-anchor="middle" fill="#3c3c3c">30</text>
<line x1="390.74" y1="373.00" x2="390.74" y2="375.80" stroke="#1a1a1a" stroke-width="1"/>
<text x="391.14" y="384.60" font-size="6.3" text-anchor="middle" fill="#3c3c3c">40</text>
<line x1="410.25" y1="373.00" x2="410.25" y2="375.80" stroke="#1a1a1a" stroke-width="1"/>
<text x="410.65" y="384.60" font-size="6.3" text-anchor="middle" fill="#3c3c3c">50</text>
<line x1="429.76" y1="373.00" x2="429.76" y2="375.80" stroke="#1a1a1a" stroke-width="1"/>
<text x="430.16" y="384.60" font-size="6.3" text-anchor="middle" fill="#3c3c3c">60</text>
<line x1="449.27" y1="373.00" x2="449.27" y2="375.80" stroke="#1a1a1a" stroke-width="1"/>
<text x="449.67" y="384.60" font-size="6.3" text-anchor="middle" fill="#3c3c3c">70</text>
<line x1="468.78" y1="373.00" x2="468.78" y2="375.80" stroke="#1a1a1a" stroke-width="1"/>
<text x="469.18" y="384.60" font-size="6.3" text-anchor="middle" fill="#3c3c3c">80</text>
<line x1="488.29" y1="373.00" x2="488.29" y2="375.80" stroke="#1a1a1a" stroke-width="1"/>
<text x="488.69" y="384.60" font-size="6.3" text-anchor="middle" fill="#3c3c3c">90</text>
<line x1="507.80" y1="373.00" x2="507.80" y2="375.80" stroke="#1a1a1a" stroke-width="1"/>
<text x="508.20" y="384.60" font-size="6.3" text-anchor="middle" fill="#3c3c3c">100</text>
<text transform="translate(291.30,313.45) rotate(-90) scale(0.76,1)" font-size="7.7" text-anchor="middle" fill="#3c3c3c">Cumulative incidence probability</text>
<text transform="translate(411.10,395.90) scale(0.656,1)" font-size="8.2" font-weight="bold" text-anchor="middle" fill="#3c3c3c">Day post-letermovir start</text>
<text x="351.30" y="409.90" font-size="6.1" fill="#3c3c3c">Last CMV sample within 7-90 days pre-HCT</text>
<line x1="339.40" y1="417.80" x2="348.30" y2="417.80" stroke="#465270" stroke-width="1.6"/>
<text x="351.30" y="419.80" font-size="6.1" fill="#3c3c3c">No pre-tx CMV</text>
<line x1="339.40" y1="427.70" x2="348.30" y2="427.70" stroke="#e2a0aa" stroke-width="1.6"/>
<text x="351.30" y="429.70" font-size="6.1" fill="#3c3c3c">Previously positive now negative (within 30 days)</text>
<line x1="339.40" y1="437.60" x2="348.30" y2="437.60" stroke="#5a925a" stroke-width="1.6" stroke-dasharray="3 1"/>
<text x="351.30" y="439.60" font-size="6.1" fill="#3c3c3c">Any positive CMV</text>
<text x="285.30" y="247.10" font-size="11.3" font-weight="bold" fill="#000">E</text>
<text x="433.00" y="297.60" font-size="6.1" fill="#3c3c3c">Gray's Test <tspan font-style="italic">P</tspan> &lt; .0001</text>
<polygon points="68.10,590.08 69.86,590.08 85.16,589.32 104.38,588.69 115.95,587.81 121.83,586.17 127.52,585.04 133.21,583.02 139.09,580.25 146.74,577.73 152.62,575.21 160.27,571.43 165.95,569.41 171.64,567.27 179.48,565.25 194.78,564.12 214.00,563.11 223.61,562.10 242.83,560.97 263.02,559.96 263.02,566.78 242.83,567.62 223.61,568.57 214.00,569.41 194.78,570.25 179.48,571.20 171.64,572.88 165.95,574.67 160.27,576.36 152.62,579.51 146.74,581.62 139.09,583.72 133.21,586.03 127.52,587.72 121.83,588.66 115.95,590.03 104.38,590.77 85.16,591.00 69.86,591.00 68.10,591.00" fill="rgb(58,92,178)" fill-opacity="0.3"/>
<polygon points="71.83,591.00 74.96,587.53 80.85,581.75 80.85,560.02 95.55,560.02 96.73,552.74 112.22,548.92 124.97,542.45 142.81,531.58 165.95,524.99 204.39,524.99 204.39,522.45 263.02,522.45 262.24,554.70 175.56,554.70 165.95,556.32 156.34,562.10 138.70,569.04 126.93,572.50 115.95,574.01 107.32,580.60 95.55,581.17 80.85,581.75 80.85,591.00 71.83,591.00" fill="rgb(118,185,92)" fill-opacity="0.3"/>
<polygon points="70.06,591.00 75.94,591.00 80.85,581.75 95.55,581.17 107.32,579.44 115.16,572.50 121.83,563.37 139.09,559.56 165.95,548.92 175.56,548.92 175.56,548.00 235.18,548.00 235.18,546.03 263.02,546.03 263.02,568.23 165.95,568.23 165.95,571.35 159.29,573.08 143.79,576.20 128.50,580.02 113.01,586.38 107.32,588.69 97.51,589.27 87.71,589.84 79.47,591.00 70.06,591.00" fill="rgb(212,86,52)" fill-opacity="0.35"/>
<polyline points="68.10,591.00 69.86,591.00 85.16,590.31 104.38,589.73 115.95,588.92 121.83,587.42 127.52,586.38 133.21,584.53 139.09,581.98 146.74,579.67 152.62,577.36 160.27,573.89 165.95,572.04 171.64,570.08 179.48,568.23 194.78,567.19 214.00,566.26 223.61,565.34 242.83,564.30 263.02,563.37" fill="none" stroke="#2c3b66" stroke-width="1.25" stroke-linejoin="round"/>
<polyline points="68.10,591.00 70.06,591.00 73.79,590.31 81.43,588.34 91.04,587.42 96.73,586.38 102.61,585.45 108.30,583.49 113.99,581.64 117.91,577.82 121.83,573.89 127.52,572.97 133.21,570.08 139.09,568.23 144.78,568.23 150.66,567.19 156.34,566.26 162.03,565.34 165.95,563.37 165.95,559.56 175.56,559.56 175.56,558.63 235.18,558.63 235.18,556.67 260.08,556.67 260.08,555.16 263.02,555.16" fill="none" stroke="#b4464c" stroke-width="1.0" stroke-linejoin="round"/>
<polyline points="68.10,591.00 71.83,591.00 75.55,588.11 78.49,584.06 80.45,580.02 82.42,575.74 83.00,572.97 93.00,572.97 96.73,570.08 99.67,566.26 110.26,566.26 115.95,562.45 123.60,559.56 129.48,556.67 133.21,552.74 139.09,550.89 142.81,546.96 148.70,545.11 158.31,542.22 165.95,539.33 203.41,539.33 203.41,537.01 262.24,537.01" fill="none" stroke="#488a48" stroke-width="1.0" stroke-linejoin="round" stroke-dasharray="3.2 2"/>
<line x1="68.10" y1="472.60" x2="68.10" y2="592.80" stroke="#1a1a1a" stroke-width="1.5"/>
<line x1="67.35" y1="592.00" x2="267.00" y2="592.00" stroke="#1a1a1a" stroke-width="1.5"/>
<line x1="65.10" y1="591.00" x2="68.10" y2="591.00" stroke="#1a1a1a" stroke-width="1"/>
<text x="62.10" y="593.10" font-size="6.2" text-anchor="end" fill="#3c3c3c">0.0</text>
<line x1="66.60" y1="585.22" x2="68.10" y2="585.22" stroke="#1a1a1a" stroke-width="1"/>
<line x1="65.10" y1="579.44" x2="68.10" y2="579.44" stroke="#1a1a1a" stroke-width="1"/>
<text x="62.10" y="581.54" font-size="6.2" text-anchor="end" fill="#3c3c3c">0.1</text>
<line x1="66.60" y1="573.66" x2="68.10" y2="573.66" stroke="#1a1a1a" stroke-width="1"/>
<line x1="65.10" y1="567.88" x2="68.10" y2="567.88" stroke="#1a1a1a" stroke-width="1"/>
<text x="62.10" y="569.98" font-size="6.2" text-anchor="end" fill="#3c3c3c">0.2</text>
<line x1="66.60" y1="562.10" x2="68.10" y2="562.10" stroke="#1a1a1a" stroke-width="1"/>
<line x1="65.10" y1="556.32" x2="68.10" y2="556.32" stroke="#1a1a1a" stroke-width="1"/>
<text x="62.10" y="558.42" font-size="6.2" text-anchor="end" fill="#3c3c3c">0.3</text>
<line x1="66.60" y1="550.54" x2="68.10" y2="550.54" stroke="#1a1a1a" stroke-width="1"/>
<line x1="65.10" y1="544.76" x2="68.10" y2="544.76" stroke="#1a1a1a" stroke-width="1"/>
<text x="62.10" y="546.86" font-size="6.2" text-anchor="end" fill="#3c3c3c">0.4</text>
<line x1="66.60" y1="538.98" x2="68.10" y2="538.98" stroke="#1a1a1a" stroke-width="1"/>
<line x1="65.10" y1="533.20" x2="68.10" y2="533.20" stroke="#1a1a1a" stroke-width="1"/>
<text x="62.10" y="535.30" font-size="6.2" text-anchor="end" fill="#3c3c3c">0.5</text>
<line x1="66.60" y1="527.42" x2="68.10" y2="527.42" stroke="#1a1a1a" stroke-width="1"/>
<line x1="65.10" y1="521.64" x2="68.10" y2="521.64" stroke="#1a1a1a" stroke-width="1"/>
<text x="62.10" y="523.74" font-size="6.2" text-anchor="end" fill="#3c3c3c">0.6</text>
<line x1="66.60" y1="515.86" x2="68.10" y2="515.86" stroke="#1a1a1a" stroke-width="1"/>
<line x1="65.10" y1="510.08" x2="68.10" y2="510.08" stroke="#1a1a1a" stroke-width="1"/>
<text x="62.10" y="512.18" font-size="6.2" text-anchor="end" fill="#3c3c3c">0.7</text>
<line x1="66.60" y1="504.30" x2="68.10" y2="504.30" stroke="#1a1a1a" stroke-width="1"/>
<line x1="65.10" y1="498.52" x2="68.10" y2="498.52" stroke="#1a1a1a" stroke-width="1"/>
<text x="62.10" y="500.62" font-size="6.2" text-anchor="end" fill="#3c3c3c">0.8</text>
<line x1="66.60" y1="492.74" x2="68.10" y2="492.74" stroke="#1a1a1a" stroke-width="1"/>
<line x1="65.10" y1="486.96" x2="68.10" y2="486.96" stroke="#1a1a1a" stroke-width="1"/>
<text x="62.10" y="489.06" font-size="6.2" text-anchor="end" fill="#3c3c3c">0.9</text>
<line x1="66.60" y1="481.18" x2="68.10" y2="481.18" stroke="#1a1a1a" stroke-width="1"/>
<line x1="65.10" y1="475.40" x2="68.10" y2="475.40" stroke="#1a1a1a" stroke-width="1"/>
<text x="62.10" y="477.50" font-size="6.2" text-anchor="end" fill="#3c3c3c">1.0</text>
<line x1="68.90" y1="592.00" x2="68.90" y2="594.80" stroke="#1a1a1a" stroke-width="1"/>
<text x="69.30" y="603.60" font-size="6.3" text-anchor="middle" fill="#3c3c3c">0</text>
<line x1="88.43" y1="592.00" x2="88.43" y2="594.80" stroke="#1a1a1a" stroke-width="1"/>
<text x="88.83" y="603.60" font-size="6.3" text-anchor="middle" fill="#3c3c3c">10</text>
<line x1="107.96" y1="592.00" x2="107.96" y2="594.80" stroke="#1a1a1a" stroke-width="1"/>
<text x="108.36" y="603.60" font-size="6.3" text-anchor="middle" fill="#3c3c3c">20</text>
<line x1="127.49" y1="592.00" x2="127.49" y2="594.80" stroke="#1a1a1a" stroke-width="1"/>
<text x="127.89" y="603.60" font-size="6.3" text-anchor="middle" fill="#3c3c3c">30</text>
<line x1="147.02" y1="592.00" x2="147.02" y2="594.80" stroke="#1a1a1a" stroke-width="1"/>
<text x="147.42" y="603.60" font-size="6.3" text-anchor="middle" fill="#3c3c3c">40</text>
<line x1="166.55" y1="592.00" x2="166.55" y2="594.80" stroke="#1a1a1a" stroke-width="1"/>
<text x="166.95" y="603.60" font-size="6.3" text-anchor="middle" fill="#3c3c3c">50</text>
<line x1="186.08" y1="592.00" x2="186.08" y2="594.80" stroke="#1a1a1a" stroke-width="1"/>
<text x="186.48" y="603.60" font-size="6.3" text-anchor="middle" fill="#3c3c3c">60</text>
<line x1="205.61" y1="592.00" x2="205.61" y2="594.80" stroke="#1a1a1a" stroke-width="1"/>
<text x="206.01" y="603.60" font-size="6.3" text-anchor="middle" fill="#3c3c3c">70</text>
<line x1="225.14" y1="592.00" x2="225.14" y2="594.80" stroke="#1a1a1a" stroke-width="1"/>
<text x="225.54" y="603.60" font-size="6.3" text-anchor="middle" fill="#3c3c3c">80</text>
<line x1="244.67" y1="592.00" x2="244.67" y2="594.80" stroke="#1a1a1a" stroke-width="1"/>
<text x="245.07" y="603.60" font-size="6.3" text-anchor="middle" fill="#3c3c3c">90</text>
<line x1="264.20" y1="592.00" x2="264.20" y2="594.80" stroke="#1a1a1a" stroke-width="1"/>
<text x="264.60" y="603.60" font-size="6.3" text-anchor="middle" fill="#3c3c3c">100</text>
<text transform="translate(47.70,532.20) rotate(-90) scale(0.76,1)" font-size="7.7" text-anchor="middle" fill="#3c3c3c">Cumulative incidence probability</text>
<text transform="translate(167.40,614.90) scale(0.64,1)" font-size="8.2" font-weight="bold" text-anchor="middle" fill="#3c3c3c">Day post-transplant</text>
<text x="107.70" y="628.90" font-size="6.1" fill="#3c3c3c">Last CMV sample within 7-90 days pre-HCT</text>
<line x1="95.80" y1="636.80" x2="104.70" y2="636.80" stroke="#465270" stroke-width="1.6"/>
<text x="107.70" y="638.80" font-size="6.1" fill="#3c3c3c">No pre-tx CMV</text>
<line x1="95.80" y1="646.70" x2="104.70" y2="646.70" stroke="#e2a0aa" stroke-width="1.6"/>
<text x="107.70" y="648.70" font-size="6.1" fill="#3c3c3c">Previously positive now negative (within 30 days)</text>
<line x1="95.80" y1="656.60" x2="104.70" y2="656.60" stroke="#5a925a" stroke-width="1.6" stroke-dasharray="3 1"/>
<text x="107.70" y="658.60" font-size="6.1" fill="#3c3c3c">Any positive CMV</text>
<text x="41.20" y="466.30" font-size="11.3" font-weight="bold" fill="#000">C</text>
<text x="198.40" y="583.60" font-size="6.1" fill="#3c3c3c">Gray's Test <tspan font-style="italic">P</tspan> &lt; .0001</text>
<polygon points="311.70,591.00 327.38,584.06 503.98,582.91 503.98,588.23 327.38,589.27 311.70,591.00" fill="rgb(58,92,178)" fill-opacity="0.3"/>
<polygon points="311.70,591.00 323.46,587.53 326.79,584.06 326.79,569.61 432.04,569.61 432.04,563.37 503.98,563.37 503.98,583.49 432.04,583.49 432.04,589.27 327.38,589.61 311.70,591.00" fill="rgb(118,185,92)" fill-opacity="0.3"/>
<polygon points="319.54,591.00 323.85,572.50 326.79,572.50 326.79,569.61 503.98,569.61 503.98,589.61 432.04,589.61 432.04,584.06 326.79,584.06 323.85,591.00 319.54,591.00" fill="rgb(212,86,52)" fill-opacity="0.35"/>
<polyline points="311.70,591.00 312.29,591.00 319.54,589.61 327.38,587.53 350.90,587.19 399.90,586.38 432.04,585.80 468.50,585.57 503.98,585.22" fill="none" stroke="#2c3b66" stroke-width="1.25" stroke-linejoin="round"/>
<polyline points="311.70,591.00 319.54,591.00 321.50,589.84 324.44,586.38 326.20,583.25 503.98,583.25" fill="none" stroke="#b4464c" stroke-width="1.0" stroke-linejoin="round"/>
<polyline points="311.70,591.00 312.68,591.00 319.54,589.84 323.46,588.11 327.38,586.14 432.04,585.80 432.04,581.06 503.98,581.06" fill="none" stroke="#488a48" stroke-width="1.0" stroke-linejoin="round" stroke-dasharray="3.2 2"/>
<line x1="311.70" y1="472.60" x2="311.70" y2="592.80" stroke="#1a1a1a" stroke-width="1.5"/>
<line x1="310.95" y1="592.00" x2="510.90" y2="592.00" stroke="#1a1a1a" stroke-width="1.5"/>
<line x1="308.70" y1="591.00" x2="311.70" y2="591.00" stroke="#1a1a1a" stroke-width="1"/>
<text x="305.70" y="593.10" font-size="6.2" text-anchor="end" fill="#3c3c3c">0.0</text>
<line x1="310.20" y1="585.22" x2="311.70" y2="585.22" stroke="#1a1a1a" stroke-width="1"/>
<line x1="308.70" y1="579.44" x2="311.70" y2="579.44" stroke="#1a1a1a" stroke-width="1"/>
<text x="305.70" y="581.54" font-size="6.2" text-anchor="end" fill="#3c3c3c">0.1</text>
<line x1="310.20" y1="573.66" x2="311.70" y2="573.66" stroke="#1a1a1a" stroke-width="1"/>
<line x1="308.70" y1="567.88" x2="311.70" y2="567.88" stroke="#1a1a1a" stroke-width="1"/>
<text x="305.70" y="569.98" font-size="6.2" text-anchor="end" fill="#3c3c3c">0.2</text>
<line x1="310.20" y1="562.10" x2="311.70" y2="562.10" stroke="#1a1a1a" stroke-width="1"/>
<line x1="308.70" y1="556.32" x2="311.70" y2="556.32" stroke="#1a1a1a" stroke-width="1"/>
<text x="305.70" y="558.42" font-size="6.2" text-anchor="end" fill="#3c3c3c">0.3</text>
<line x1="310.20" y1="550.54" x2="311.70" y2="550.54" stroke="#1a1a1a" stroke-width="1"/>
<line x1="308.70" y1="544.76" x2="311.70" y2="544.76" stroke="#1a1a1a" stroke-width="1"/>
<text x="305.70" y="546.86" font-size="6.2" text-anchor="end" fill="#3c3c3c">0.4</text>
<line x1="310.20" y1="538.98" x2="311.70" y2="538.98" stroke="#1a1a1a" stroke-width="1"/>
<line x1="308.70" y1="533.20" x2="311.70" y2="533.20" stroke="#1a1a1a" stroke-width="1"/>
<text x="305.70" y="535.30" font-size="6.2" text-anchor="end" fill="#3c3c3c">0.5</text>
<line x1="310.20" y1="527.42" x2="311.70" y2="527.42" stroke="#1a1a1a" stroke-width="1"/>
<line x1="308.70" y1="521.64" x2="311.70" y2="521.64" stroke="#1a1a1a" stroke-width="1"/>
<text x="305.70" y="523.74" font-size="6.2" text-anchor="end" fill="#3c3c3c">0.6</text>
<line x1="310.20" y1="515.86" x2="311.70" y2="515.86" stroke="#1a1a1a" stroke-width="1"/>
<line x1="308.70" y1="510.08" x2="311.70" y2="510.08" stroke="#1a1a1a" stroke-width="1"/>
<text x="305.70" y="512.18" font-size="6.2" text-anchor="end" fill="#3c3c3c">0.7</text>
<line x1="310.20" y1="504.30" x2="311.70" y2="504.30" stroke="#1a1a1a" stroke-width="1"/>
<line x1="308.70" y1="498.52" x2="311.70" y2="498.52" stroke="#1a1a1a" stroke-width="1"/>
<text x="305.70" y="500.62" font-size="6.2" text-anchor="end" fill="#3c3c3c">0.8</text>
<line x1="310.20" y1="492.74" x2="311.70" y2="492.74" stroke="#1a1a1a" stroke-width="1"/>
<line x1="308.70" y1="486.96" x2="311.70" y2="486.96" stroke="#1a1a1a" stroke-width="1"/>
<text x="305.70" y="489.06" font-size="6.2" text-anchor="end" fill="#3c3c3c">0.9</text>
<line x1="310.20" y1="481.18" x2="311.70" y2="481.18" stroke="#1a1a1a" stroke-width="1"/>
<line x1="308.70" y1="475.40" x2="311.70" y2="475.40" stroke="#1a1a1a" stroke-width="1"/>
<text x="305.70" y="477.50" font-size="6.2" text-anchor="end" fill="#3c3c3c">1.0</text>
<line x1="312.70" y1="592.00" x2="312.70" y2="594.80" stroke="#1a1a1a" stroke-width="1"/>
<text x="313.10" y="603.60" font-size="6.3" text-anchor="middle" fill="#3c3c3c">0</text>
<line x1="332.21" y1="592.00" x2="332.21" y2="594.80" stroke="#1a1a1a" stroke-width="1"/>
<text x="332.61" y="603.60" font-size="6.3" text-anchor="middle" fill="#3c3c3c">10</text>
<line x1="351.72" y1="592.00" x2="351.72" y2="594.80" stroke="#1a1a1a" stroke-width="1"/>
<text x="352.12" y="603.60" font-size="6.3" text-anchor="middle" fill="#3c3c3c">20</text>
<line x1="371.23" y1="592.00" x2="371.23" y2="594.80" stroke="#1a1a1a" stroke-width="1"/>
<text x="371.63" y="603.60" font-size="6.3" text-anchor="middle" fill="#3c3c3c">30</text>
<line x1="390.74" y1="592.00" x2="390.74" y2="594.80" stroke="#1a1a1a" stroke-width="1"/>
<text x="391.14" y="603.60" font-size="6.3" text-anchor="middle" fill="#3c3c3c">40</text>
<line x1="410.25" y1="592.00" x2="410.25" y2="594.80" stroke="#1a1a1a" stroke-width="1"/>
<text x="410.65" y="603.60" font-size="6.3" text-anchor="middle" fill="#3c3c3c">50</text>
<line x1="429.76" y1="592.00" x2="429.76" y2="594.80" stroke="#1a1a1a" stroke-width="1"/>
<text x="430.16" y="603.60" font-size="6.3" text-anchor="middle" fill="#3c3c3c">60</text>
<line x1="449.27" y1="592.00" x2="449.27" y2="594.80" stroke="#1a1a1a" stroke-width="1"/>
<text x="449.67" y="603.60" font-size="6.3" text-anchor="middle" fill="#3c3c3c">70</text>
<line x1="468.78" y1="592.00" x2="468.78" y2="594.80" stroke="#1a1a1a" stroke-width="1"/>
<text x="469.18" y="603.60" font-size="6.3" text-anchor="middle" fill="#3c3c3c">80</text>
<line x1="488.29" y1="592.00" x2="488.29" y2="594.80" stroke="#1a1a1a" stroke-width="1"/>
<text x="488.69" y="603.60" font-size="6.3" text-anchor="middle" fill="#3c3c3c">90</text>
<line x1="507.80" y1="592.00" x2="507.80" y2="594.80" stroke="#1a1a1a" stroke-width="1"/>
<text x="508.20" y="603.60" font-size="6.3" text-anchor="middle" fill="#3c3c3c">100</text>
<text transform="translate(291.30,532.20) rotate(-90) scale(0.76,1)" font-size="7.7" text-anchor="middle" fill="#3c3c3c">Cumulative incidence probability</text>
<text transform="translate(411.10,614.90) scale(0.656,1)" font-size="8.2" font-weight="bold" text-anchor="middle" fill="#3c3c3c">Day post-letermovir start</text>
<text x="351.30" y="628.90" font-size="6.1" fill="#3c3c3c">Last CMV sample within 7-90 days pre-HCT</text>
<line x1="339.40" y1="636.80" x2="348.30" y2="636.80" stroke="#465270" stroke-width="1.6"/>
<text x="351.30" y="638.80" font-size="6.1" fill="#3c3c3c">No pre-tx CMV</text>
<line x1="339.40" y1="646.70" x2="348.30" y2="646.70" stroke="#e2a0aa" stroke-width="1.6"/>
<text x="351.30" y="648.70" font-size="6.1" fill="#3c3c3c">Previously positive now negative (within 30 days)</text>
<line x1="339.40" y1="656.60" x2="348.30" y2="656.60" stroke="#5a925a" stroke-width="1.6" stroke-dasharray="3 1"/>
<text x="351.30" y="658.60" font-size="6.1" fill="#3c3c3c">Any positive CMV</text>
<text x="285.30" y="466.20" font-size="11.3" font-weight="bold" fill="#000">F</text>
<text x="434.20" y="531.50" font-size="6.1" fill="#3c3c3c">Gray's Test <tspan font-style="italic">P</tspan> = .7894</text>
<text x="167.4" y="29.6" font-size="7.6" text-anchor="middle" fill="#3c3c3c">PET</text>
<text x="411.0" y="29.6" font-size="7.6" text-anchor="middle" fill="#3c3c3c">LET</text>
<text x="20.0" y="36.0" font-size="5.9" text-anchor="middle" fill="#3c3c3c">CMV</text>
<text x="20.3" y="43.7" font-size="5.9" text-anchor="middle" fill="#3c3c3c">Viremia by</text>
<text x="20.2" y="50.8" font-size="6.2" text-anchor="middle" fill="#3c3c3c">day 100</text>
<line x1="20.4" y1="55.5" x2="20.4" y2="66.5" stroke="#111" stroke-width="1"/>
<path d="M18.5,65.5 L22.4,65.5 L20.4,70.3 Z" fill="#111"/>
<text x="20.2" y="96.3" font-size="7.4" text-anchor="middle" fill="#3c3c3c">Any</text>
<text x="26.6" y="310.8" font-size="8.3" text-anchor="middle" fill="#3c3c3c">≥150</text>
<text x="26.75" y="320.8" font-size="8.3" text-anchor="middle" fill="#3c3c3c">IU/mL</text>
<text x="26.6" y="529.6" font-size="8.3" text-anchor="middle" fill="#3c3c3c">≥500</text>
<text x="26.75" y="539.9" font-size="8.3" text-anchor="middle" fill="#3c3c3c">IU/mL</text>
<rect x="0.5" y="0.5" width="519" height="666" fill="none" stroke="#555" stroke-width="1"/>
</svg>
</body></html>
